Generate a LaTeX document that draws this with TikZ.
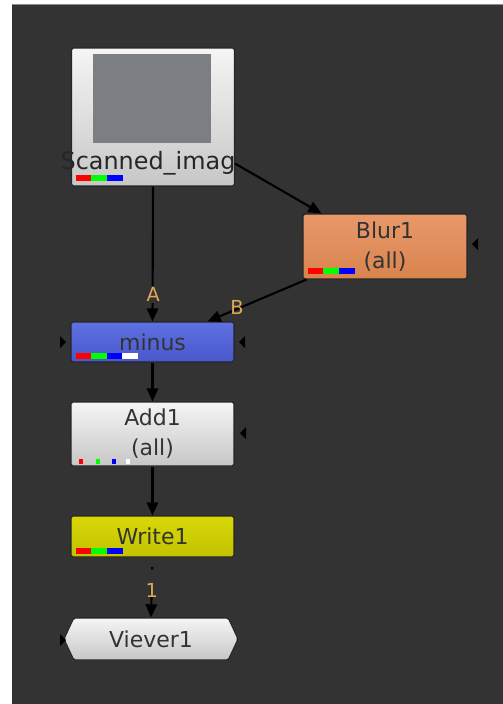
\documentclass[tikz,border=0pt]{standalone}
\usepackage{fontspec}
\setmainfont{DejaVu Sans}
\usetikzlibrary{arrows.meta,positioning,calc,shapes.symbols}
\definecolor{bgdark}{HTML}{333333}
\definecolor{pinlbl}{HTML}{E0A855}
\definecolor{thumb}{HTML}{7B7E83}
\definecolor{blurtop}{HTML}{E8986A}
\definecolor{blurbot}{HTML}{D9844F}
\definecolor{mintop}{HTML}{5F70E2}
\definecolor{minbot}{HTML}{4858CC}
\definecolor{wrtop}{HTML}{D8D808}
\definecolor{wrbot}{HTML}{C2C200}

\begin{document}
\begin{tikzpicture}[x=0.02cm,y=-0.02cm,font=\fontsize{12.5}{15}\selectfont,
  nd/.style={draw=black!85,line width=0.6pt,rounded corners=1pt,text=black!80,align=center,inner sep=0pt,minimum width=3.26cm},
  grey/.style={top color=white!96!black,bottom color=white!78!black},
  arr/.style={line width=1.2pt,-{Triangle[length=7.5pt,width=6.5pt]}},
  lbl/.style={text=pinlbl,font=\fontsize{11}{12}\selectfont,inner sep=1pt},
  tip/.style={fill=black}]
\useasboundingbox (0,0) rectangle (503,704);
\fill[white] (0,0) rectangle (503,704);
\fill[bgdark] (12,5) rectangle (503,704);
\draw[black!45,line width=1pt] (12,4.5) -- (503,4.5);

% nodes
\node[nd,grey,minimum height=2.76cm] (scan) at (153,117) {};
\fill[thumb] (93,54) rectangle (211,143);
\node[text=black!85,font=\fontsize{13.6}{15}\selectfont] (scanlbl) at (148,163) {Scanned\_imag};
\node[nd,top color=blurtop,bottom color=blurbot,minimum width=3.28cm,minimum height=1.3cm] (blur) at (385,246.5) {Blur1\\[2pt](all)};
\node[nd,top color=mintop,bottom color=minbot,minimum height=0.8cm] (minus) at (152.5,342) {minus};
\node[nd,grey,minimum height=1.28cm] (add) at (152.5,434) {Add1\\[2pt](all)};
\node[nd,top color=wrtop,bottom color=wrbot,minimum height=0.82cm] (write) at (152.5,536.5) {Write1};
\node[nd,grey,signal,signal to=east and west,signal pointer angle=130,minimum width=3.48cm,minimum height=0.84cm] (view) at (151,639) {Viever1};

% channel bars
\foreach \c/\x in {red/76,green/91,blue/107}{
  \fill[\c] (\x,175) rectangle ++(15.5,6);
  \fill[\c] (\x+232,268) rectangle ++(15.5,6);
  \fill[\c] (\x,548) rectangle ++(15.5,6);
}
\foreach \c/\x in {red/76,green/91,blue/107,white/122}{
  \fill[\c] (\x,353) rectangle ++(15.5,6);
}
\foreach \c/\x in {red/79,green/96,blue/112,white/126}{
  \fill[\c] (\x,459) rectangle ++(4,5);
}

% side inputs
\fill[tip] (60,336) -- (66,342) -- (60,348) -- cycle;
\fill[tip] (245,336) -- (239,342) -- (245,348) -- cycle;
\fill[tip] (246,427) -- (240,433) -- (246,439) -- cycle;
\fill[tip] (478,238) -- (472,244) -- (478,250) -- cycle;
\fill[tip] (60,634) -- (66,640) -- (60,646) -- cycle;

% connectors
\draw[arr] (scan.south) -- (minus.north) node[lbl,pos=0.8,right=-5pt,fill=bgdark] {A};
\draw[arr] ($(scan.south east)+(0,-23)$) -- ($(blur.north west)+(19,0)$);
\draw[arr] ($(blur.south west)+(4,0)$) -- ($(minus.north east)+(-27,0)$) node[lbl,pos=0.85,above right=-1pt and 3pt] {B};
\draw[arr] (minus) -- (add);
\draw[arr] (add) -- (write);
\draw[arr,dash pattern=on 0pt off 5.5pt on 1.2pt off 11pt on 30pt] (write.south) -- (view.north) node[lbl,pos=0.55] {1};
\end{tikzpicture}
\end{document}
